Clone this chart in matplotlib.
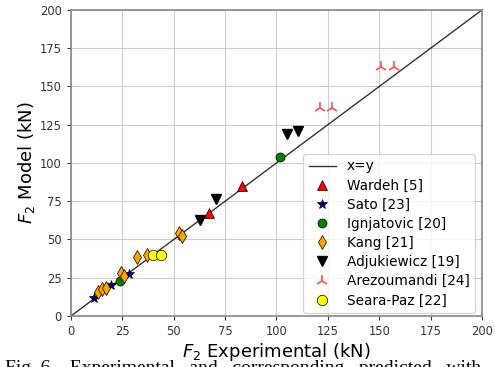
import numpy as np
import matplotlib.pyplot as plt

# data (kN)
wardeh_x = [67, 83]
wardeh_y = [67, 85]
sato_x = [11, 19.5, 28]
sato_y = [12, 20, 27.5]
ignj_x = [24, 101.5]
ignj_y = [23, 104]
kang_x = [13, 15, 17, 24.5, 26, 32, 37, 52.5, 54]
kang_y = [16, 17.5, 18.5, 28, 26, 38.5, 40, 54.5, 52]
adju_x = [63, 70.5, 105, 110.5]
adju_y = [63, 76.5, 119, 121]
arez_x = [121, 127, 151, 157]
arez_y = [136, 136, 163, 163]
seara_x = [40, 44]
seara_y = [40, 40]
ticks = [0, 25, 50, 75, 100, 125, 150, 175, 200]


def draw_graph():
    fig = plt.figure(figsize=(4.95, 3.67), dpi=100)
    ax = fig.add_axes([0.1434, 0.139, 0.8303, 0.8338])

    ax.plot([0, 200], [0, 200], color='k', lw=1, alpha=0.8, label='x=y', zorder=2)
    ax.plot(wardeh_x, wardeh_y, '^', color='red', mec='k', mew=0.5, ms=6.5, label='Wardeh [5]', zorder=3)
    ax.plot(sato_x, sato_y, '*', color='navy', mec='k', mew=0.5, ms=7.5, label='Sato [23]', zorder=3)
    ax.plot(ignj_x, ignj_y, 'o', color='green', mec='k', mew=0.5, ms=6.5, label='Ignjatovic [20]', zorder=3)
    ax.plot(kang_x, kang_y, 'd', color='orange', mec='k', mew=0.5, ms=7.5, label='Kang [21]', zorder=3)
    ax.plot(adju_x, adju_y, 'v', color='k', ms=6.5, label='Adjukiewicz [19]', zorder=3)
    ax.plot(arez_x, arez_y, '2', color='#ff5050', ms=9, mew=1.2, label='Arezoumandi [24]', zorder=3)
    ax.plot(seara_x, seara_y, 'o', color='yellow', mec='k', mew=0.5, ms=7.5, label='Seara-Paz [22]', zorder=3)

    ax.set_xlim(0, 200)
    ax.set_ylim(0, 200)
    ax.set_xticks(ticks)
    ax.set_yticks(ticks)
    ax.tick_params(labelsize=8.3, colors='#333333', length=3)
    ax.grid(True, color='#cccccc', lw=0.8)
    ax.set_axisbelow(True)
    for s in ax.spines.values():
        s.set_color('#888888')
        s.set_linewidth(1.2)
    ax.set_xlabel('$F_2$ Experimental (kN)', fontsize=13, labelpad=2)
    ax.set_ylabel('$F_2$ Model (kN)', fontsize=13, labelpad=2)
    ax.legend(loc='lower right', bbox_to_anchor=(0.983, 0.01), borderaxespad=0,
              fontsize=9.8, handlelength=2.0, labelspacing=0.38, framealpha=0.8)

    fig.text(0.01, -0.016, 'Fig. 6.   Experimental   and   corresponding   predicted   with',
             family='Liberation Serif', fontsize=14, va='baseline', ha='left')
    fig.savefig('out.png', dpi=100)


if __name__ == "__main__":
    draw_graph()
